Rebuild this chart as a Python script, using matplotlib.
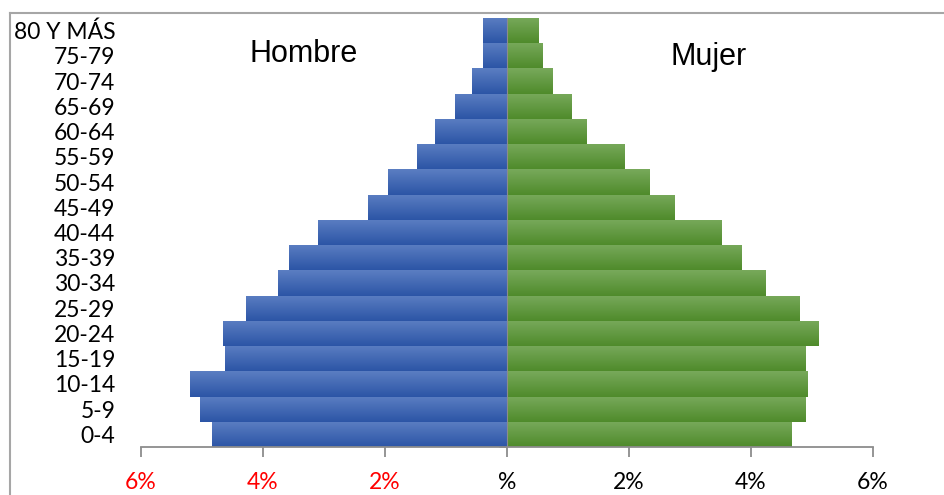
import numpy as np
import matplotlib
matplotlib.use('Agg')
import matplotlib.pyplot as plt
from matplotlib.colors import LinearSegmentedColormap
from matplotlib.lines import Line2D

# age groups, bottom to top
grupos = ['0-4', '5-9', '10-14', '15-19', '20-24', '25-29', '30-34', '35-39',
          '40-44', '45-49', '50-54', '55-59', '60-64', '65-69', '70-74',
          '75-79', '80 Y MÁS']
# percent of population
hombre = [4.84, 5.03, 5.20, 4.62, 4.66, 4.28, 3.75, 3.57, 3.10, 2.28, 1.95,
          1.48, 1.18, 0.85, 0.57, 0.39, 0.39]
mujer = [4.66, 4.90, 4.93, 4.89, 5.11, 4.79, 4.23, 3.85, 3.51, 2.75, 2.34,
         1.92, 1.31, 1.05, 0.75, 0.59, 0.52]
xticks = [-6, -4, -2, 0, 2, 4, 6]
xlabels = ['6%', '4%', '2%', '%', '2%', '4%', '6%']
xcolors = ['red', 'red', 'red', 'black', 'black', 'black', 'black']

W, H = 944, 495
fig = plt.figure(figsize=(W/100, H/100), dpi=100)
ax = fig.add_axes([141/W, 1-447/H, 732/W, 429/H])

y = np.arange(len(grupos))
cm_blue = LinearSegmentedColormap.from_list('b', ['#2c55a6', '#5b7ec2'])
cm_green = LinearSegmentedColormap.from_list('g', ['#4f8b2b', '#78a95b'])
grad = np.linspace(0, 1, 64).reshape(-1, 1)

bars_h = ax.barh(y, [-v for v in hombre], height=1.0, color='#3a63b0', lw=0)
bars_m = ax.barh(y, mujer, height=1.0, color='#5f9638', lw=0)
for bars, cmap in ((bars_h, cm_blue), (bars_m, cm_green)):
    for b in bars:
        x0, y0 = b.get_x(), b.get_y()
        w, h = b.get_width(), b.get_height()
        im = ax.imshow(grad, cmap=cmap, aspect='auto', origin='lower',
                       extent=[x0, x0 + w, y0, y0 + h], zorder=2)
        im.set_clip_path(b)

ax.set_xlim(-6, 6)
ax.set_ylim(-0.5, len(grupos) - 0.5)

for s in ['top', 'right']:
    ax.spines[s].set_visible(False)
ax.spines['left'].set_position(('data', 0))
ax.spines['left'].set_color('#8c8c8c')
ax.spines['bottom'].set_color('#8c8c8c')
ax.spines['left'].set_zorder(5)
ax.spines['bottom'].set_linewidth(1.3)

ax.set_xticks(xticks)
ax.set_xticklabels(xlabels, fontsize=16.5, family='Lato')
for lab, c in zip(ax.get_xticklabels(), xcolors):
    lab.set_color(c)
ax.tick_params(axis='x', length=7, color='#8c8c8c', width=1.3, pad=11)

ax.set_yticks(y)
ax.set_yticklabels(grupos, fontsize=16.5, family='Lato')
ax.set_yticks(np.arange(-0.5, len(grupos), 1.0), minor=True)
ax.tick_params(axis='y', which='major', direction='in', length=5,
               color='#8c8c8c', pad=282)
ax.tick_params(axis='y', which='minor', direction='out', length=6,
               color='#8c8c8c')

ax.text(-3.34, 14.76, 'Hombre', fontsize=22, family='Liberation Sans',
        ha='center', va='baseline')
ax.text(3.30, 14.64, 'Mujer', fontsize=22, family='Liberation Sans',
        ha='center', va='baseline')

# chart frame
fig.add_artist(Line2D([10/W, 10/W], [0, 1-12.5/H], color='#a6a6a6', lw=1.5))
fig.add_artist(Line2D([10/W, 1], [1-12.5/H, 1-12.5/H], color='#a6a6a6', lw=1.5))

fig.savefig('out.png', dpi=100)
